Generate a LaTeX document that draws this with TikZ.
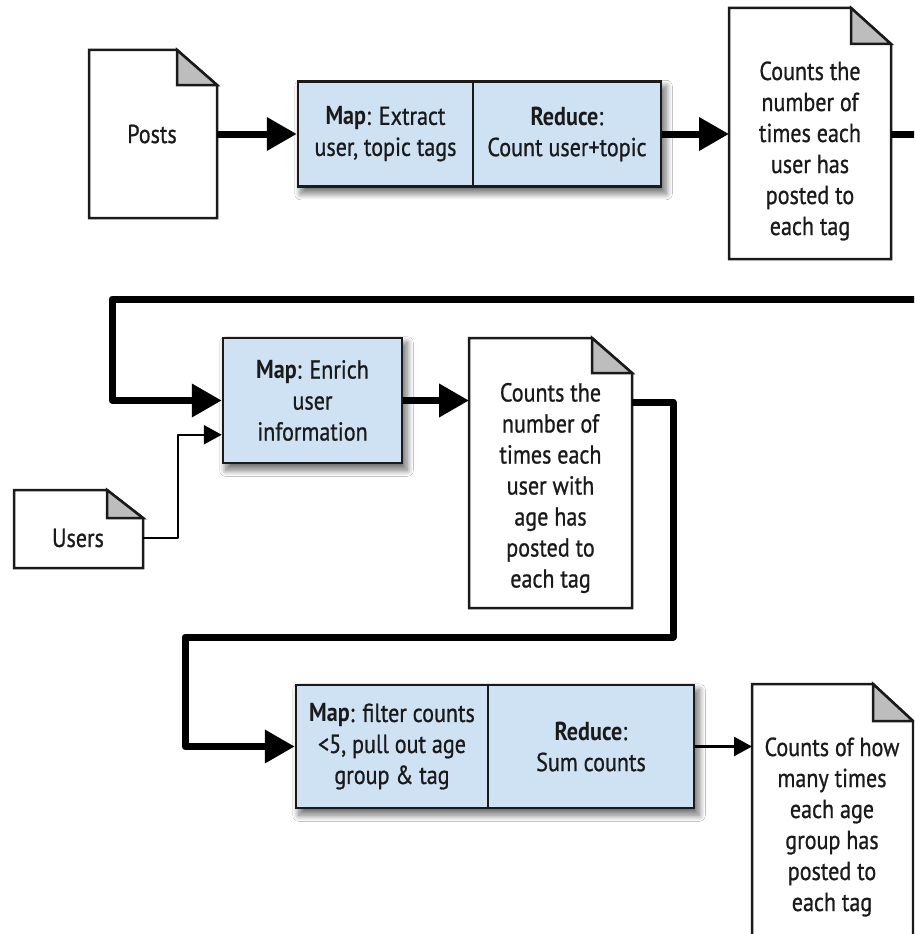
\documentclass[tikz,border=0pt]{standalone}
\usepackage{fontspec}
\setmainfont{PT Sans}[FakeStretch=0.85, UprightFeatures={FakeBold=0.8}]
\usetikzlibrary{arrows.meta,shadows.blur,calc,backgrounds}
\definecolor{boxblue}{HTML}{CFE2F3}
\definecolor{foldgray}{HTML}{BDBDBD}
\definecolor{ink}{HTML}{1A1A1A}
\tikzset{
  txt/.style={font=\fontsize{26}{31}\selectfont, align=center, inner sep=0pt, text=ink},
  procbox/.style={draw=ink, line width=2.5pt, fill=boxblue, inner sep=0pt, txt},
  boxshadow/.style={blur shadow={shadow xshift=4pt, shadow yshift=-6pt, shadow blur radius=6pt, shadow blur steps=12, shadow opacity=55}},
  docarea/.style={inner sep=0pt, outer sep=0pt},
  docline/.style={draw=ink, line width=2.5pt, line join=miter, fill=white},
  foldfill/.style={draw=ink, line width=2.5pt, fill=foldgray, line join=miter},
  bigflow/.style={draw=black, line width=7pt, line join=round, -{Triangle[length=30pt,width=32pt]}},
  smallflow/.style={draw=black, line width=2.5pt, line join=round, -{Triangle[length=18pt,width=19pt]}},
}
\newcommand{\docshape}[3]{%
  \draw[docline] (#1.south west) -- (#1.north west) -- ([xshift=-#2pt]#1.north east)
     -- ([yshift=-#3pt]#1.north east) -- (#1.south east) -- cycle;
  \draw[foldfill] ([xshift=-#2pt]#1.north east) -- ([xshift=-#2pt,yshift=-#3pt]#1.north east)
     -- ([yshift=-#3pt]#1.north east) -- cycle;
}
\begin{document}
\begin{tikzpicture}[x=1pt,y=-1pt]
\path[use as bounding box] (0,0) rectangle (914,934);
\clip (0,0) rectangle (914,934);

% documents
\node[docarea, minimum width=128pt, minimum height=168pt] (posts) at (153,134) {};
\docshape{posts}{40}{35}
\node[txt] (poststxt) at (152,134) {Posts};

\node[docarea, minimum width=162pt, minimum height=251pt] (d2) at (810,133.5) {};
\docshape{d2}{40}{36}
\node[txt] (d2txt) at (810,151) {Counts the\\number of\\times each\\user has\\posted to\\each tag};

\node[docarea, minimum width=129pt, minimum height=78pt] (usr) at (78.5,529) {};
\docshape{usr}{36}{28}
\node[txt] (usrtxt) at (78,538) {Users};

\node[docarea, minimum width=163pt, minimum height=270pt] (d3) at (550.5,473) {};
\docshape{d3}{40}{35}
\node[txt] (d3txt) at (550.5,488) {Counts the\\number of\\times each\\user with\\age has\\posted to\\each tag};

\node[docarea, minimum width=161pt, minimum height=290pt] (d4) at (832.5,829) {};
\docshape{d4}{40}{37}
\node[txt] (d4txt) at (832,827) {Counts of how\\many times\\each age\\group has\\posted to\\each tag};

% processing boxes
\node[procbox, minimum width=175pt, minimum height=105pt] (m1) at (385.5,134) {\textbf{Map}: Extract\\user, topic tags};
\node[procbox, minimum width=188pt, minimum height=105pt] (r1) at (567,134) {\textbf{Reduce}:\\Count user+topic};

\node[procbox, minimum width=179pt, minimum height=125pt] (enr) at (312.5,400.5) {\textbf{Map}: Enrich\\user\\information};

\node[procbox, minimum width=192pt, minimum height=123pt] (m3) at (392,746.5) {\textbf{Map}: filter counts\\<5, pull out age\\group \& tag};
\node[procbox, minimum width=206pt, minimum height=123pt] (r3) at (591,746.5) {\textbf{Reduce}:\\Sum counts};

\begin{pgfonlayer}{background}
  \fill[white] (0,0) rectangle (914,934);
  \path[boxshadow] (m1.north west) rectangle (r1.south east);
  \path[boxshadow] (enr.north west) rectangle (enr.south east);
  \path[boxshadow] (m3.north west) rectangle (r3.south east);
\end{pgfonlayer}

% connectors
\draw[bigflow] (posts.east) -- (m1.west);
\draw[bigflow] (r1.east) -- (d2.west |- r1.east);
\draw[bigflow] (d2.east |- r1.east) -| (935,299) -- (112,299) |- (enr.west);
\draw[smallflow] ([yshift=-48pt]usr.north east) -- (178,538) |- ([yshift=-98pt]enr.north west);
\draw[bigflow] (enr.east) -- (enr.east -| d3.west);
\draw[bigflow] ([yshift=-64pt]d3.north east) -- (673,402) -- (673,637) -- (185,637) |- (m3.west);
\draw[smallflow] (r3.east) -- (r3.east -| d4.west);
\end{tikzpicture}
\end{document}
